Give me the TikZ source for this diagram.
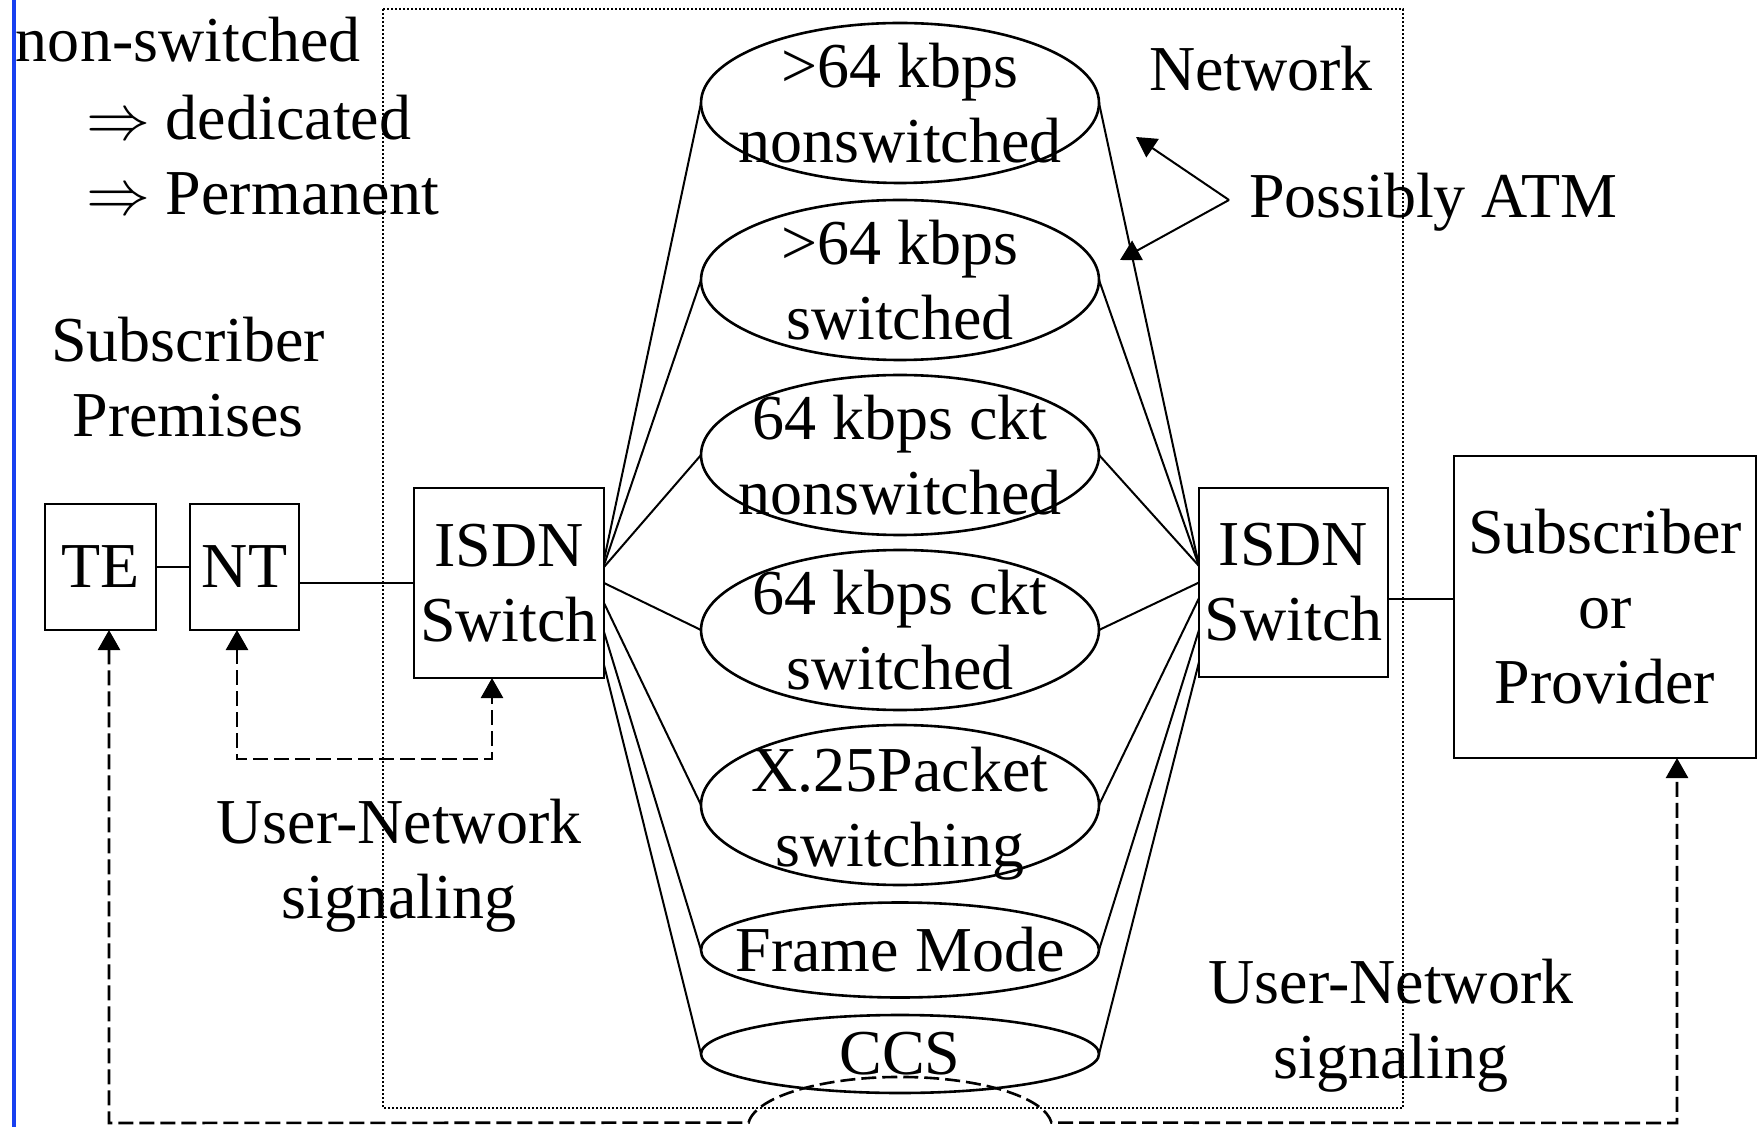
\documentclass[tikz,border=0pt]{standalone}
\usepackage{graphicx}
\usepackage{fontspec}
\setmainfont{Liberation Serif}
\usetikzlibrary{arrows.meta,shapes.geometric,calc}
\definecolor{barblue}{RGB}{24,64,240}
\newcommand{\bigimp}{\scalebox{1.286}{$\Rightarrow$}}
\begin{document}
\begin{tikzpicture}[x=0.5pt,y=-0.5pt,
  every node/.style={inner sep=0pt, outer sep=0pt, font=\fontsize{32}{37.5}\selectfont, align=center},
  box/.style={draw, line width=1.4pt, rectangle},
  oval/.style={draw, line width=1.3pt, ellipse, minimum width=199pt, minimum height=80pt},
  link/.style={line width=1pt},
  sig/.style={line width=1.3pt, dash pattern=on 7.5pt off 3pt},
  netline/.style={line width=1.3pt, dash pattern=on 1pt off 1pt},
  >={Triangle[length=10pt,width=11pt]},
]
\useasboundingbox (0,0) rectangle (1759,1127);
% left blue bar
\draw[barblue, line width=2pt] (14,0) -- (14,1127);
% network dotted frame
\draw[netline] (383,9) rectangle (1403,1108);

% texts
\node[anchor=base west] (ns) at (16,62) {non-switched};
\node[anchor=base west] (ded) at (86,140) {\bigimp\ dedicated};
\node[anchor=base west] (perm) at (86,215) {\bigimp\ Permanent};
\node[anchor=base] (prem) at (188,437) {Subscriber\\Premises};
\node[anchor=base] (uns1) at (399,918) {User-Network\\signaling};
\node[anchor=base] (uns2) at (1391,1078) {User-Network\\signaling};
\node[anchor=base west] (net) at (1149,91) {Network};
\node[anchor=base west] (patm) at (1249,218) {Possibly ATM};

% boxes
\node[box, minimum width=55.5pt, minimum height=63pt] (TE) at (100.5,567) {TE};
\node[box, minimum width=54.5pt, minimum height=63pt] (NT) at (244.5,567) {NT};
\node[box, minimum width=95pt, minimum height=95pt] (SWL) at (509,583) {ISDN\\Switch};
\node[box, minimum width=94.5pt, minimum height=94.5pt] (SWR) at (1293.5,582.5) {ISDN\\Switch};
\node[box, minimum width=151pt, minimum height=151pt] (SP) at (1605,607) {Subscriber\\or\\Provider};

% ellipses
\node[oval] (E1) at (900,103) {};
\node[oval] (E2) at (900,280) {};
\node[oval] (E3) at (900,455) {};
\node[oval] (E4) at (900,630) {};
\node[oval] (E5) at (900,805) {};
\node[oval, minimum height=47.5pt] (E6) at (900,950) {};
\node[oval, minimum height=39pt] (E7) at (900,1054) {};
\node (t1) at (E1) {>64 kbps\\nonswitched};
\node (t2) at (E2) {>64 kbps\\switched};
\node (t3) at (E3) {64 kbps ckt\\nonswitched};
\node (t4) at (E4) {64 kbps ckt\\switched};
\node (t5) at ($(E5)+(0,9)$) {X.25Packet\\switching};
\node (t6) at (E6) {Frame Mode};
\node (t7) at (E7) {CCS};

% links
\draw[link] (TE) -- (NT);
\draw[link] (NT.east |- SWL.west) -- (SWL.west);
\draw[link] ($(SWR.east)+(0,16.5)$) -- ($(SP.west)+(0,-8)$);

\draw[link] ($(SWL.east)+(0,-23)$) -- (E1.west);
\draw[link] ($(SWL.east)+(0,-18)$) -- (E2.west);
\draw[link] ($(SWL.east)+(0,-16)$) -- (E3.west);
\draw[link] (SWL.east) -- (E4.west);
\draw[link] ($(SWL.east)+(0,20)$) -- (E5.west);
\draw[link] ($(SWL.east)+(0,49)$) -- (E6.west);
\draw[link] ($(SWL.east)+(0,82)$) -- (E7.west);

\draw[link] (E1.east) -- ($(SWR.west)+(0,-16.5)$);
\draw[link] (E2.east) -- ($(SWR.west)+(0,-16.5)$);
\draw[link] (E3.east) -- ($(SWR.west)+(0,-16.5)$);
\draw[link] (E4.east) -- (SWR.west);
\draw[link] (E5.east) -- ($(SWR.west)+(0,15.5)$);
\draw[link] (E6.east) -- ($(SWR.west)+(0,47.5)$);
\draw[link] (E7.east) -- ($(SWR.west)+(0,79.5)$);

% possibly ATM arrows
\coordinate (atm) at (1229,200);
\coordinate (atm1) at (1136,137);
\coordinate (atm2) at (1120,260);
\draw[link,->] (atm) -- (atm1);
\draw[link,->] (atm) -- (atm2);

% signaling
\coordinate (ntb) at (237,759);
\coordinate (swb) at (492,759);
\draw[sig,<->] (NT.south -| ntb) -- (ntb) -- (swb) -- (SWL.south -| swb);

\coordinate (bl) at (109,1123);
\coordinate (al) at (748.6,1122.6);
\coordinate (br) at (1677,1123);
\draw[sig,<->] (TE.south -| bl) -- (bl) -- (al)
  arc[start angle=175, end angle=5, x radius=76pt, y radius=25pt] -- (br) -- (SP.south -| br);
\end{tikzpicture}
\end{document}
